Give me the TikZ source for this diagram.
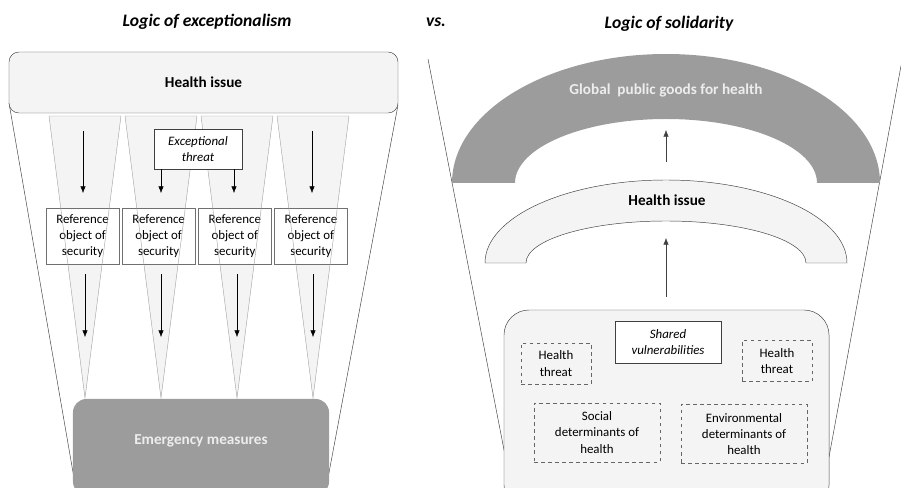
\documentclass[tikz,border=0pt]{standalone}
\usepackage{fontspec}
\setmainfont{Carlito}
\usetikzlibrary{positioning, arrows.meta}
\definecolor{pale}{HTML}{F4F4F4}
\definecolor{dark}{HTML}{9C9C9C}
\definecolor{edge}{HTML}{404040}
\definecolor{cone}{HTML}{A0A0A0}
\tikzset{
	>={Latex[length=0.2cm, width=0.16cm]},
	every node/.style={align=center, font=\fontsize{11}{13.8}\selectfont},
	heading/.style={font=\fontsize{15}{17}\selectfont\bfseries\itshape},
	capt/.style={font=\fontsize{13}{15}\selectfont\bfseries},
	issuebox/.style={capt, draw=edge, fill=pale, rounded corners=0.3cm, minimum width=11.67cm, minimum height=1.83cm},
	emergbox/.style={capt, text=white!93!black, fill=dark, rounded corners=0.4cm, minimum width=7.68cm, minimum height=2.88cm, text depth=12pt},
	refbox/.style={draw=cone!70!black, fill=white, minimum width=2.19cm, minimum height=1.68cm, inner sep=1pt},
	threatbox/.style={draw=edge, fill=white, minimum width=2.64cm, minimum height=1.2cm, inner sep=1pt},
	poolbox/.style={draw=edge, fill=pale, rounded corners=0.75cm, minimum width=9.75cm, minimum height=6cm},
	dashbox/.style={draw=edge!80, dashed, minimum width=2.1cm, minimum height=1.23cm, inner sep=1pt},
	conedge/.style={draw=cone, line width=0.35pt},
	}

\begin{document}
\begin{tikzpicture}[x=0.03cm, y=-0.03cm]
	\useasboundingbox (0,0) rectangle (901,488);
	\clip (0,0) rectangle (901,488);

	\node[heading] (tleft) at (207,22) {Logic of exceptionalism};
	\node[heading] (vs) at (436,22) {vs.};
	\node[heading] (tright) at (669,24) {Logic of solidarity};

	% exceptionalism
	\draw[edge] (9,103) -- (74,478);
	\draw[edge] (398,105) -- (328,478);
	\node[issuebox] (issue) at (203.5,82.5) {Health issue};
	\foreach \cx in {85,161,237,313}
		\fill[pale] (\cx-36,116) -- (\cx+36,116) -- (\cx,398) -- cycle;

	\node[refbox] (ref1) at (82.5,236) {Reference\\object of\\security};
	\node[refbox, right=0.08cm of ref1] (ref2) {Reference\\object of\\security};
	\node[refbox, right=0.08cm of ref2] (ref3) {Reference\\object of\\security};
	\node[refbox, right=0.08cm of ref3] (ref4) {Reference\\object of\\security};

	\foreach \cx in {85,161,237,313}
		\draw[conedge] (\cx-36,116) -- (\cx+36,116) -- (\cx,398) -- cycle;

	\node[threatbox] (threat) at (198,149) {\textit{Exceptional}\\\textit{threat}};
	\node[emergbox] (emerg) at (201,447) {Emergency measures};

	\coordinate (in1) at (83,131);
	\coordinate (in4) at (312,131);
	\draw[->] (in1) -- (in1 |- 0,193);
	\draw[->] (in4) -- (in4 |- 0,193);
	\draw[->] (threat.south -| 161,0) -- (161,193);
	\draw[->] (threat.south -| 234,0) -- (234,193);
	\foreach \i/\cx in {1/85,2/161,3/237,4/313}{
		\coordinate (out\i) at (\cx,274);
		\coordinate (end\i) at (\cx,337);
		\draw[->] (out\i) -- (end\i);
	}

	% solidarity
	\draw[edge] (428,59) -- (505,455);
	\draw[edge] (903,55) -- (829,457);
	\fill[dark] (452,183) arc[start angle=180, end angle=360, x radius=214, y radius=129]
		-- (817,183) arc[start angle=360, end angle=180, x radius=151, y radius=64] -- cycle;
	\node[capt, text=white!93!black] (gpg) at (666,90) {Global\ \ public goods for health};
	\coordinate (up1) at (666,162);
	\coordinate (top1) at (666,130);
	\draw[->, edge] (up1) -- (top1);

	\draw[edge, fill=pale] (485,263) arc[start angle=180, end angle=360, x radius=181, y radius=83]
		-- (806,263) arc[start angle=360, end angle=180, x radius=140, y radius=42] -- cycle;
	\node[capt] (hissue) at (667,200) {Health issue};
	\coordinate (up2) at (666,297);
	\coordinate (top2) at (666,238);
	\draw[->, edge] (up2) -- (top2);

	\node[poolbox] (pool) at (666.5,410) {};
	\node[threatbox, minimum width=3.18cm, minimum height=1.26cm] (shared) at (668,342) {\textit{Shared}\\\textit{vulnerabilities}};
	\node[dashbox] (hthreat1) at (556,363.5) {Health\\threat};
	\node[dashbox] (hthreat2) at (777,361) {Health\\threat};
	\node[dashbox, minimum width=3.78cm, minimum height=1.77cm] (social) at (597,432.5) {Social\\determinants of\\health};
	\node[dashbox, minimum width=3.78cm, minimum height=1.77cm] (environ) at (744,434) {Environmental\\determinants of\\health};
\end{tikzpicture}
\end{document}
